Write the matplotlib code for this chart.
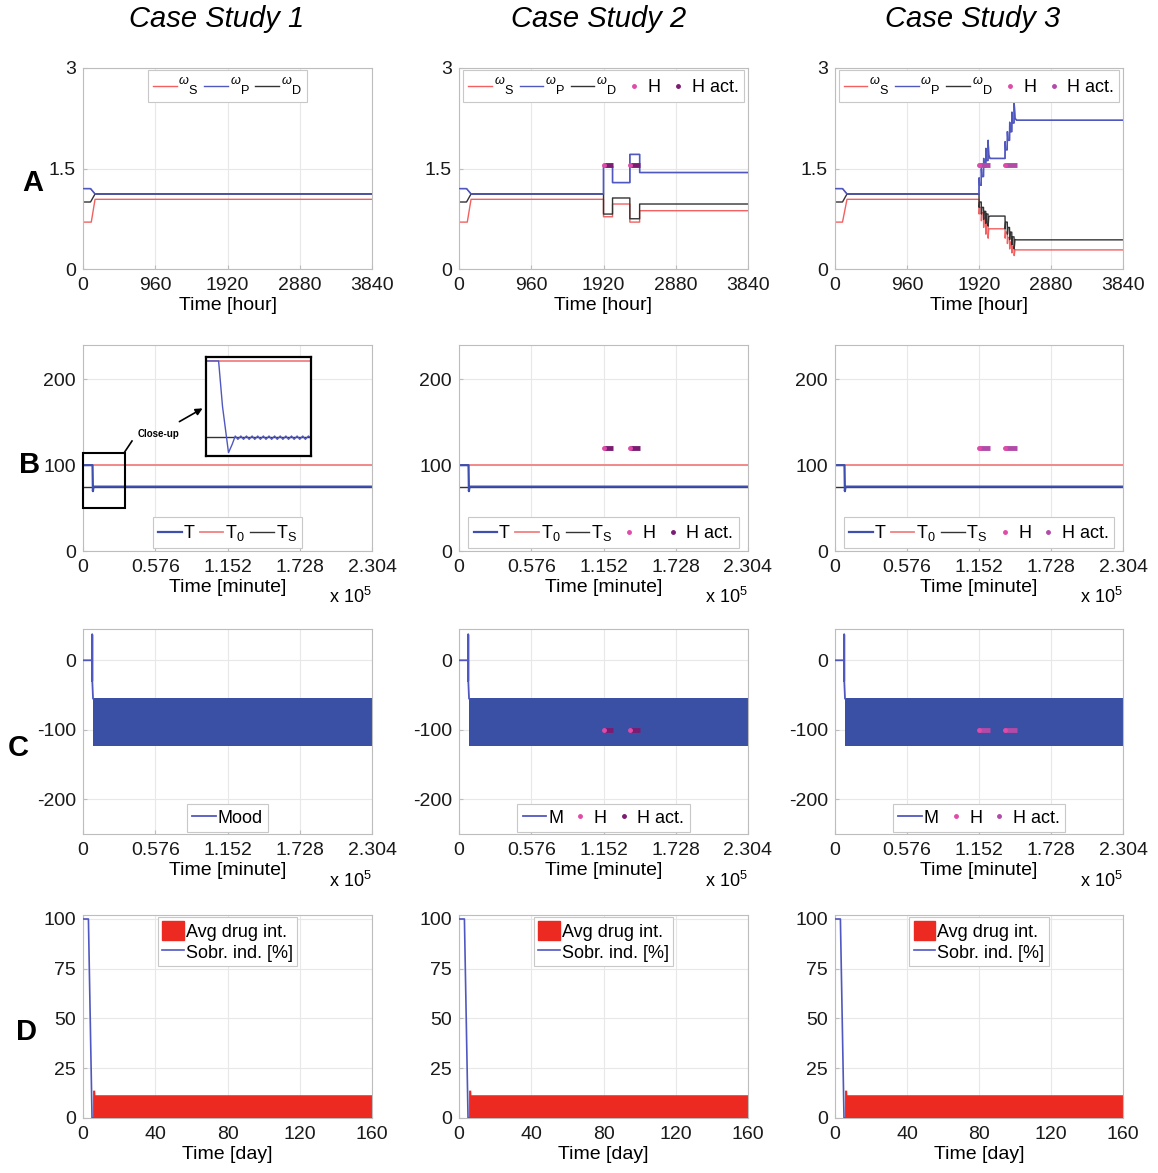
import matplotlib.pyplot as plt
from matplotlib.lines import Line2D
from matplotlib.patches import Patch, Rectangle, FancyArrowPatch

plt.rcParams['font.family'] = ['Liberation Sans', 'DejaVu Sans']
plt.rcParams['mathtext.fontset'] = 'custom'
plt.rcParams['mathtext.rm'] = 'Liberation Sans'
plt.rcParams['mathtext.it'] = 'Liberation Sans:italic'
plt.rcParams['axes.unicode_minus'] = False

# ---------------- data ----------------
titles = ['Case Study 1', 'Case Study 2', 'Case Study 3']
row_labels = ['A', 'B', 'C', 'D']

# Row A: sleep-wake omegas, time in hours
hour_ticks = [0, 960, 1920, 2880, 3840]
w_ticks = [0, 1.5, 3]

ws1_t = [0, 110, 160, 3840]
ws1 = [0.70, 0.70, 1.04, 1.04]
wp1_t = [0, 100, 160, 3840]
wp1 = [1.20, 1.20, 1.12, 1.12]
wd1_t = [0, 100, 160, 3840]
wd1 = [1.00, 1.00, 1.12, 1.12]

ws2_t = [0, 110, 160, 1920, 1920, 2040, 2040, 2270, 2270, 2400, 2400, 3840]
ws2 = [0.70, 0.70, 1.04, 1.04, 0.78, 0.78, 0.97, 0.97, 0.70, 0.70, 0.87, 0.87]
wp2_t = [0, 100, 160, 1920, 1920, 2040, 2040, 2270, 2270, 2400, 2400, 3840]
wp2 = [1.20, 1.20, 1.12, 1.12, 1.53, 1.53, 1.29, 1.29, 1.71, 1.71, 1.44, 1.44]
wd2_t = [0, 100, 160, 1920, 1920, 2040, 2040, 2270, 2270, 2400, 2400, 3840]
wd2 = [1.00, 1.00, 1.12, 1.12, 0.82, 0.82, 1.06, 1.06, 0.75, 0.75, 0.97, 0.97]

w3_t = [0, 100, 160, 1920, 1922, 1928, 1950, 1952, 1958, 1980, 1982, 1988,
        2010, 2012, 2018, 2040, 2042, 2050, 2067, 2267, 2269, 2275, 2297,
        2299, 2305, 2327, 2329, 2335, 2357, 2359, 2365, 2387, 2389, 2400,
        2422, 3840]
wp3 = [1.20, 1.20, 1.12, 1.12, 1.36, 1.25, 1.25, 1.50, 1.38, 1.38, 1.65, 1.52,
       1.52, 1.80, 1.62, 1.62, 1.92, 1.70, 1.65, 1.65, 1.90, 1.78, 1.78,
       2.05, 1.92, 1.92, 2.19, 2.05, 2.05, 2.34, 2.18, 2.18, 2.49, 2.25,
       2.22, 2.22]
wd3 = [1.00, 1.00, 1.12, 1.12, 0.92, 1.00, 1.00, 0.82, 0.92, 0.92, 0.74, 0.86,
       0.86, 0.68, 0.82, 0.82, 0.64, 0.78, 0.79, 0.79, 0.60, 0.70, 0.70,
       0.52, 0.62, 0.62, 0.44, 0.55, 0.55, 0.36, 0.48, 0.48, 0.30, 0.44,
       0.435, 0.435]
ws3 = [0.70, 0.70, 1.04, 1.04, 0.82, 0.92, 0.92, 0.72, 0.84, 0.84, 0.62, 0.76,
       0.76, 0.52, 0.66, 0.66, 0.46, 0.60, 0.60, 0.60, 0.46, 0.55, 0.55,
       0.38, 0.47, 0.47, 0.30, 0.40, 0.40, 0.24, 0.33, 0.33, 0.20, 0.29,
       0.285, 0.285]

# hormone therapy windows (hours) for case 2 and 3
h_windows = [None, [(1920, 2040), (2270, 2400)], [(1920, 2067), (2267, 2422)]]
h_level_A = 1.55
h_level_B = 120
h_level_C = -100

# Row B: temperature, time in minutes
min_ticks = [0, 57600, 115200, 172800, 230400]
min_labels = ['0', '0.576', '1.152', '1.728', '2.304']
T_t = [0, 7600, 7900, 8400, 230400]
T = [100, 100, 69.7, 75, 75]
T0_t = [0, 230400]
T0 = [100, 100]
TS_t = [0, 230400]
TS = [75, 75]
# close-up inset
ins_T_t = [6000, 7680, 8200, 9000, 9500, 9900, 10250, 10650, 11000, 11400,
           11750, 12150, 12500, 12900, 13250, 13650, 14000, 14400, 14750,
           15150, 15500, 15900, 16250, 16650, 17000, 17400, 17750, 18150,
           18500, 18900, 19250, 19650, 20000]
ins_T = [100, 100, 85, 69.7, 72.5, 75.2, 74.1, 75.2, 74.1, 75.2,
         74.1, 75.2, 74.1, 75.2, 74.1, 75.2, 74.1, 75.2, 74.1,
         75.2, 74.1, 75.2, 74.1, 75.2, 74.1, 75.2, 74.1, 75.2,
         74.1, 75.2, 74.1, 75.2, 74.6]
closeup_box = (0, 50, 33400, 64)

# Row C: mood
mood_t = [0, 7200, 7220, 7260, 7300, 7340, 7380, 7420, 8000]
mood = [0, 0, 37, -30, 37, -30, 37, -30, -55]
band_t = [8000, 230400]
band_hi = [-55, -55]
band_lo = [-123, -123]

# Row D: drug intake and sobriety, time in days
day_ticks = [0, 40, 80, 120, 160]
sobr_t = [0, 3, 5, 160]
sobr = [100, 100, 0, 0]
drug_t = [5.3, 6.5, 6.6, 160]
drug = [14, 14, 11.7, 11.7]

# ---------------- style ----------------
RED = '#f26060'
BLUE = '#5058c0'
BLACK = '#333333'
T_BLUE = '#3e4fae'
T0_RED = '#f28080'
H_PINK = '#e04aa8'
H_ACT = ['#7a1d72', '#7a1d72', '#b24aa8']
BAND = '#3a50a5'
DRUG = '#ec2a22'
GRID = '#e8e8e8'
FRAME = '#bdbdbd'

W, H = 1158, 1173
fig = plt.figure(figsize=(W / 100, H / 100), dpi=100)


def px_axes(x0, y0, x1, y1):
    return fig.add_axes([x0 / W, 1 - y1 / H, (x1 - x0) / W, (y1 - y0) / H])


def fpt(x, y):
    return (x / W, 1 - y / H)


cols = [(83, 372), (459, 748), (835, 1123)]
rows = [(68, 269), (345, 551), (629, 834), (915, 1118)]
title_x = [217, 599, 973]


def style(ax):
    ax.grid(True, color=GRID, lw=0.8)
    ax.set_axisbelow(True)
    for s in ax.spines.values():
        s.set_color(FRAME)
    ax.tick_params(direction='in', length=3, color=FRAME, labelsize=14,
                   labelcolor='#1a1a1a', pad=5)
    ax.tick_params(axis='x', pad=6)


def legend(ax, handles, labels, loc, ncol, pad=0.15):
    lg = ax.legend(handles, labels, loc=loc, ncol=ncol, fontsize=13,
                   handlelength=1.3, handletextpad=0.1, columnspacing=0.3,
                   borderpad=0.3, borderaxespad=pad, fancybox=False,
                   framealpha=1, edgecolor='#c8c8c8')
    lg.get_frame().set_linewidth(0.8)
    return lg


w_data = [(ws1_t, ws1, wp1_t, wp1, wd1_t, wd1),
          (ws2_t, ws2, wp2_t, wp2, wd2_t, wd2),
          (w3_t, ws3, w3_t, wp3, w3_t, wd3)]

lab_S = r'$^{\omega}{}_{\mathrm{S}}$'
lab_P = r'$^{\omega}{}_{\mathrm{P}}$'
lab_D = r'$^{\omega}{}_{\mathrm{D}}$'


def h_handles(i):
    return [Line2D([], [], ls='none', marker='.', ms=5, color=H_PINK),
            Line2D([], [], ls='none', marker='.', ms=5, color=H_ACT[i])]


def draw_h(ax, i, level, scale):
    for a, b in h_windows[i]:
        ax.plot([a * scale, b * scale], [level, level], color=H_ACT[i], lw=3.5,
                solid_capstyle='butt', zorder=5)
        ax.plot([a * scale], [level], ls='none', marker='.', ms=5,
                color=H_PINK, zorder=6)


for i, (x0, x1) in enumerate(cols):
    # ---- row A
    ax = px_axes(x0, rows[0][0], x1, rows[0][1])
    st, s, pt, p, dt, d = w_data[i]
    l1, = ax.plot(st, s, color=RED, lw=1)
    l2, = ax.plot(pt, p, color=BLUE, lw=1)
    l3, = ax.plot(dt, d, color=BLACK, lw=1)
    ax.plot(pt, p, color=BLUE, lw=1, zorder=3)
    ax.set_xlim(0, 3840)
    ax.set_ylim(0, 3)
    ax.set_xticks(hour_ticks)
    ax.set_yticks(w_ticks)
    ax.set_yticklabels(['0', '1.5', '3'])
    ax.set_xlabel('Time [hour]', fontsize=14, labelpad=2)
    style(ax)
    hs, ls = [l1, l2, l3], [lab_S, lab_P, lab_D]
    if i > 0:
        draw_h(ax, i, h_level_A, 1)
        hs += h_handles(i)
        ls += ['H', 'H act.']
    legend(ax, hs, ls, 'upper center', len(hs), pad=0.1)
    fig.text(*fpt(title_x[i], 19), titles[i], fontsize=21, style='italic',
             ha='center', va='center')

    # ---- row B
    ax = px_axes(x0, rows[1][0], x1, rows[1][1])
    ts, = ax.plot(TS_t, TS, color=BLACK, lw=1)
    t0, = ax.plot(T0_t, T0, color=T0_RED, lw=1.3)
    tt, = ax.plot(T_t, T, color=T_BLUE, lw=1.6)
    ax.set_xlim(0, 230400)
    ax.set_ylim(0, 240)
    ax.set_xticks(min_ticks)
    ax.set_xticklabels(min_labels)
    ax.set_yticks([0, 100, 200])
    ax.set_xlabel('Time [minute]', fontsize=14, labelpad=2)
    style(ax)
    hs, ls = [tt, t0, ts], ['T', r'T$_0$', r'T$_{\mathrm{S}}$']
    if i > 0:
        draw_h(ax, i, h_level_B, 60)
        hs += h_handles(i)
        ls += ['H', 'H act.']
    legend(ax, hs, ls, 'lower center', len(hs))
    fig.text(*fpt(x1 - 22, 597), r'x 10$^5$', fontsize=13, ha='center', va='center')
    if i == 0:
        bx, by, bw, bh = closeup_box
        ax.add_patch(Rectangle((bx, by), bw, bh, fill=False, ec='k', lw=1.5,
                               clip_on=False, zorder=6))
        ins = px_axes(206, 357, 311, 456)
        ins.plot([6000, 20000], [75, 75], color=BLACK, lw=1)
        ins.plot([6000, 20000], [100, 100], color=T0_RED, lw=1.3)
        ins.plot(ins_T_t, ins_T, color=BLUE, lw=1)
        ins.set_xlim(6000, 20000)
        ins.set_ylim(68.6, 101.3)
        ins.set_xticks([])
        ins.set_yticks([])
        for s_ in ins.spines.values():
            s_.set_linewidth(1.6)
        fig.text(*fpt(158, 434), 'Close-up', fontsize=7, fontweight='bold',
                 ha='center', va='center')
        fig.add_artist(Line2D([fpt(124, 453)[0], fpt(132, 441)[0]],
                              [fpt(124, 453)[1], fpt(132, 441)[1]],
                              transform=fig.transFigure, color='k', lw=1.2))
        fig.add_artist(FancyArrowPatch(fpt(177, 423), fpt(205, 407),
                                       transform=fig.transFigure,
                                       arrowstyle='-|>', mutation_scale=10,
                                       lw=1.2, color='k'))

    # ---- row C
    ax = px_axes(x0, rows[2][0], x1, rows[2][1])
    ax.fill_between(band_t, band_lo, band_hi, color=BAND, lw=0, zorder=2)
    ml, = ax.plot(mood_t, mood, color=BLUE, lw=1.3, zorder=3)
    ax.set_xlim(0, 230400)
    ax.set_ylim(-250, 45)
    ax.set_xticks(min_ticks)
    ax.set_xticklabels(min_labels)
    ax.set_yticks([-200, -100, 0])
    ax.set_xlabel('Time [minute]', fontsize=14, labelpad=2)
    style(ax)
    if i == 0:
        hs, ls = [ml], ['Mood']
    else:
        draw_h(ax, i, h_level_C, 60)
        hs = [ml] + h_handles(i)
        ls = ['M', 'H', 'H act.']
    legend(ax, hs, ls, 'lower center', len(hs), pad=0.1)
    fig.text(*fpt(x1 - 22, 881), r'x 10$^5$', fontsize=13, ha='center', va='center')

    # ---- row D
    ax = px_axes(x0, rows[3][0], x1, rows[3][1])
    ax.fill_between(drug_t, 0, drug, color=DRUG, lw=0, zorder=2)
    sl, = ax.plot(sobr_t, sobr, color=BLUE, lw=1.2, zorder=3)
    ax.set_xlim(0, 160)
    ax.set_ylim(0, 102)
    ax.set_xticks(day_ticks)
    ax.set_yticks([0, 25, 50, 75, 100])
    ax.set_xlabel('Time [day]', fontsize=14, labelpad=2)
    style(ax)
    lg = ax.legend([Patch(color=DRUG), sl], ['Avg drug int.', 'Sobr. ind. [%]'],
                   loc='upper center', fontsize=13, handlelength=1.2,
                   handleheight=1.2, handletextpad=0.1, borderpad=0.25,
                   labelspacing=0.1, borderaxespad=0.1, fancybox=False,
                   framealpha=1, edgecolor='#c8c8c8')
    lg.get_frame().set_linewidth(0.8)

label_pos = [(33, 183), (30, 465), (18, 748), (27, 1032)]
for lab, (x, y) in zip(row_labels, label_pos):
    fig.text(*fpt(x, y), lab, fontsize=21, fontweight='bold', ha='center', va='center')

fig.savefig('out.png', dpi=100)
